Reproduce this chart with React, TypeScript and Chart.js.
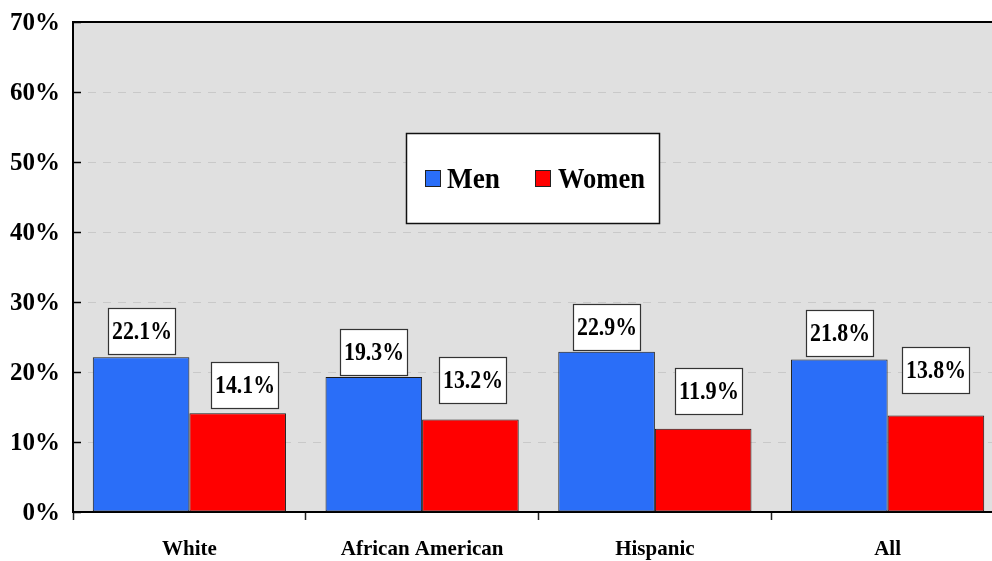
import { useEffect, useRef } from 'react';
import { Chart, registerables } from 'chart.js';

Chart.register(...registerables);

// Share of each group, in percent
const categories = ['White', 'African American', 'Hispanic', 'All'];
const menValues = [22.1, 19.3, 22.9, 21.8];
const womenValues = [14.1, 13.2, 11.9, 13.8];
const seriesNames = ['Men', 'Women'];

// Value-axis range and step (percent)
const yMin = 0;
const yMax = 70;
const yStep = 10;

// Hand placement of the value boxes: horizontal shift and gap above the bar (px)
const menLabelPlacement = [
  { dx: 0, gap: 3 },
  { dx: 0, gap: 2 },
  { dx: 0, gap: 2 },
  { dx: 0, gap: 3 },
];
const womenLabelPlacement = [
  { dx: 7, gap: 5 },
  { dx: 2, gap: 17 },
  { dx: 5, gap: 15 },
  { dx: 0, gap: 22 },
];

const SERIF = '"Liberation Serif", "Times New Roman", serif';
const BLUE = '#2A6EF8';
const RED = '#FF0000';
const PLOT_BG = '#E0E0E0';

const decorPlugin = {
  id: 'decor',
  beforeDraw(chart: any) {
    const { ctx, chartArea: a } = chart;
    ctx.save();
    ctx.fillStyle = PLOT_BG;
    ctx.fillRect(a.left, a.top, a.right - a.left, a.bottom - a.top);
    ctx.restore();
  },
  beforeDatasetsDraw(chart: any) {
    const { ctx, chartArea: a } = chart;
    const y = chart.scales.y;
    ctx.save();
    for (const t of y.ticks) {
      const py = Math.round(y.getPixelForValue(t.value)) + 0.5;
      if (t.value > yMin && t.value < yMax) {
        ctx.strokeStyle = '#C9C9C9';
        ctx.lineWidth = 1;
        ctx.setLineDash([8, 7]);
        ctx.beginPath();
        ctx.moveTo(a.left, py);
        ctx.lineTo(a.right, py);
        ctx.stroke();
      }
      // short tick marks pointing into the plot
      ctx.setLineDash([]);
      ctx.strokeStyle = '#000';
      ctx.lineWidth = 1.5;
      ctx.beginPath();
      ctx.moveTo(a.left, py);
      ctx.lineTo(a.left + 8, py);
      ctx.stroke();
    }
    ctx.restore();
  },
  afterDatasetsDraw(chart: any) {
    const { ctx, chartArea: a } = chart;
    ctx.save();

    // top frame line
    ctx.strokeStyle = '#000';
    ctx.lineWidth = 2;
    ctx.beginPath();
    ctx.moveTo(a.left - 1, a.top);
    ctx.lineTo(a.right, a.top);
    ctx.stroke();

    // value boxes
    const placements = [menLabelPlacement, womenLabelPlacement];
    chart.data.datasets.forEach((ds: any, di: number) => {
      const meta = chart.getDatasetMeta(di);
      meta.data.forEach((bar: any, i: number) => {
        const p = placements[di][i];
        const w = 67;
        const h = 46;
        const cx = bar.x + p.dx;
        const bottom = bar.y - p.gap;
        const left = Math.round(cx - w / 2) + 0.5;
        const top = Math.round(bottom - h) + 0.5;
        ctx.fillStyle = '#FFFFFF';
        ctx.fillRect(left, top, w, h);
        ctx.strokeStyle = '#333';
        ctx.lineWidth = 1.2;
        ctx.strokeRect(left, top, w, h);
        ctx.fillStyle = '#000';
        ctx.font = `bold 26px ${SERIF}`;
        ctx.textAlign = 'center';
        ctx.textBaseline = 'middle';
        ctx.fillText(`${ds.data[i].toFixed(1)}%`, left + w / 2, top + h / 2 + 1, 60);
      });
    });

    // legend
    const lx = 406.5;
    const ly = 133.5;
    const lw = 253;
    const lh = 90;
    ctx.fillStyle = '#FFFFFF';
    ctx.fillRect(lx, ly, lw, lh);
    ctx.strokeStyle = '#111';
    ctx.lineWidth = 1.5;
    ctx.strokeRect(lx, ly, lw, lh);
    const items = [
      { sx: 425, tx: 447, w: 53, color: BLUE, name: seriesNames[0] },
      { sx: 535, tx: 558, w: 87, color: RED, name: seriesNames[1] },
    ];
    for (const it of items) {
      ctx.fillStyle = it.color;
      ctx.fillRect(it.sx + 0.5, 170.5, 15, 16);
      ctx.strokeStyle = '#222';
      ctx.lineWidth = 1;
      ctx.strokeRect(it.sx + 0.5, 170.5, 15, 16);
      ctx.fillStyle = '#000';
      ctx.font = `bold 30px ${SERIF}`;
      ctx.textAlign = 'left';
      ctx.textBaseline = 'middle';
      ctx.fillText(it.name, it.tx, 180, it.w);
    }
    ctx.restore();
  },
};

export default function App() {
  const canvasRef = useRef<HTMLCanvasElement | null>(null);

  useEffect(() => {
    if (!canvasRef.current) return;
    const chart = new Chart(canvasRef.current, {
      type: 'bar',
      data: {
        labels: categories,
        datasets: [
          {
            label: seriesNames[0],
            data: menValues,
            backgroundColor: BLUE,
            borderColor: '#1A1A1A',
            borderWidth: 1,
            borderSkipped: false,
          },
          {
            label: seriesNames[1],
            data: womenValues,
            backgroundColor: RED,
            borderColor: '#1A1A1A',
            borderWidth: 1,
            borderSkipped: false,
          },
        ],
      },
      options: {
        responsive: false,
        animation: false,
        layout: { padding: { top: 22, left: 0, right: 0, bottom: 0 } },
        datasets: {
          bar: { categoryPercentage: 0.83, barPercentage: 1 },
        },
        plugins: {
          legend: { display: false },
          tooltip: { enabled: false },
        },
        scales: {
          x: {
            afterFit: (s: any) => {
              s.height = 49;
              s.paddingLeft = 0;
              s.paddingRight = 0;
            },
            grid: {
              offset: true,
              drawOnChartArea: false,
              drawTicks: true,
              tickLength: 8,
              tickColor: '#222',
              tickWidth: 1.5,
            },
            border: { display: true, color: '#000', width: 2 },
            ticks: {
              color: '#000',
              padding: 17,
              font: { family: SERIF, size: 21, weight: 'bold' },
            },
          },
          y: {
            min: yMin,
            max: yMax,
            afterFit: (s: any) => {
              s.width = 73;
              s.paddingTop = 0;
              s.paddingBottom = 0;
            },
            grid: { drawOnChartArea: false, drawTicks: false },
            border: { display: true, color: '#000', width: 2 },
            ticks: {
              stepSize: yStep,
              color: '#000',
              padding: 13,
              labelOffset: 2,
              font: { family: SERIF, size: 25, weight: 'bold' },
              callback: (v: any) => `${v}%`,
            },
          },
        },
      },
      plugins: [decorPlugin],
    });
    return () => chart.destroy();
  }, []);

  return (
    <canvas
      ref={canvasRef}
      width={1004}
      height={561}
      style={{ position: 'fixed', left: 0, top: 0, display: 'block' }}
    />
  );
}
